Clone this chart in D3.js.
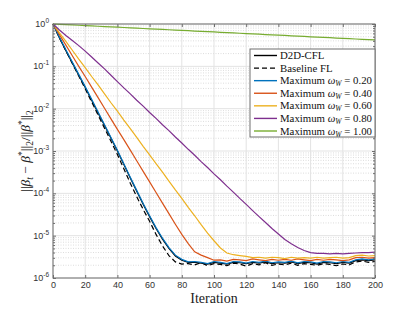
<!DOCTYPE html>
<html>
<head>
<meta charset="utf-8">
<script src="https://cdn.jsdelivr.net/npm/d3@7/dist/d3.min.js"></script>
<style>
  body { margin: 0; background: #fff; }
</style>
</head>
<body>
<div class="content"></div>
<script>
// iteration index of every sample
const iterations = [0, 4, 8, 12, 16, 20, 24, 28, 32, 36, 40, 44, 48, 52, 56, 60, 64, 68, 72, 76, 80,
  84, 88, 92, 96, 100, 104, 108, 112, 116, 120, 124, 128, 132, 136, 140, 144, 148, 152, 156, 160,
  164, 168, 172, 176, 180, 184, 188, 192, 196, 200];

// log10 of ||beta_t - beta*||_2 / ||beta*||_2
const logD2D = [0, -0.33, -0.63, -0.92, -1.21, -1.50, -1.80, -2.10, -2.40, -2.70, -3.00, -3.32, -3.64, -3.95, -4.26, -4.55, -4.83, -5.08, -5.30, -5.48, -5.58,
  -5.63, -5.63, -5.65, -5.67, -5.63, -5.65, -5.67, -5.63, -5.64, -5.66, -5.63, -5.65, -5.62, -5.66, -5.64, -5.65, -5.62, -5.66, -5.63, -5.64,
  -5.67, -5.63, -5.64, -5.66, -5.63, -5.65, -5.59, -5.57, -5.59, -5.57];
const logBaseline = [0, -0.32, -0.63, -0.93, -1.23, -1.53, -1.84, -2.15, -2.46, -2.77, -3.08, -3.42, -3.76, -4.08, -4.38, -4.66, -4.97, -5.24, -5.47, -5.62, -5.67,
  -5.66, -5.69, -5.64, -5.71, -5.66, -5.68, -5.71, -5.65, -5.67, -5.72, -5.66, -5.69, -5.64, -5.70, -5.67, -5.69, -5.65, -5.70, -5.66, -5.68,
  -5.70, -5.66, -5.68, -5.71, -5.67, -5.69, -5.62, -5.60, -5.63, -5.61];
const logW020 = [0, -0.31, -0.61, -0.90, -1.19, -1.48, -1.78, -2.08, -2.38, -2.68, -2.98, -3.30, -3.62, -3.93, -4.24, -4.53, -4.81, -5.06, -5.28, -5.46, -5.56,
  -5.62, -5.61, -5.63, -5.66, -5.61, -5.63, -5.66, -5.61, -5.62, -5.65, -5.61, -5.63, -5.60, -5.64, -5.62, -5.63, -5.60, -5.64, -5.61, -5.62,
  -5.65, -5.61, -5.62, -5.64, -5.61, -5.63, -5.57, -5.55, -5.57, -5.55];
const logW040 = [0, -0.25, -0.50, -0.75, -1.00, -1.24, -1.49, -1.74, -1.99, -2.24, -2.49, -2.73, -2.98, -3.23, -3.48, -3.73, -3.98, -4.23, -4.48, -4.73, -4.97,
  -5.19, -5.38, -5.46, -5.52, -5.58, -5.57, -5.60, -5.56, -5.57, -5.59, -5.55, -5.57, -5.59, -5.56, -5.58, -5.56, -5.58, -5.55, -5.57, -5.59,
  -5.56, -5.58, -5.56, -5.57, -5.59, -5.57, -5.52, -5.51, -5.53, -5.52];
const logW060 = [0, -0.21, -0.41, -0.62, -0.83, -1.03, -1.24, -1.44, -1.65, -1.86, -2.06, -2.27, -2.47, -2.68, -2.89, -3.09, -3.30, -3.50, -3.71, -3.92, -4.12,
  -4.33, -4.53, -4.74, -4.94, -5.12, -5.29, -5.41, -5.45, -5.47, -5.49, -5.52, -5.51, -5.53, -5.51, -5.52, -5.54, -5.51, -5.53, -5.52, -5.53,
  -5.51, -5.53, -5.52, -5.51, -5.53, -5.52, -5.47, -5.46, -5.48, -5.47];
const logW080 = [0, -0.14, -0.27, -0.39, -0.51, -0.64, -0.78, -0.92, -1.06, -1.21, -1.36, -1.51, -1.65, -1.80, -1.94, -2.09, -2.23, -2.38, -2.52, -2.67, -2.81,
  -2.96, -3.10, -3.25, -3.39, -3.54, -3.68, -3.83, -3.97, -4.12, -4.26, -4.41, -4.55, -4.69, -4.83, -4.96, -5.09, -5.19, -5.28, -5.35, -5.40,
  -5.42, -5.42, -5.43, -5.42, -5.43, -5.42, -5.41, -5.40, -5.40, -5.39];
const logW100 = [0, -0.008, -0.015, -0.023, -0.030, -0.038, -0.045, -0.053, -0.060, -0.068, -0.075, -0.083, -0.090, -0.098, -0.106, -0.113, -0.121, -0.128, -0.136, -0.143, -0.151,
  -0.158, -0.166, -0.173, -0.181, -0.188, -0.196, -0.204, -0.211, -0.219, -0.226, -0.234, -0.241, -0.249, -0.256, -0.264, -0.271, -0.279, -0.286, -0.294, -0.302,
  -0.309, -0.317, -0.324, -0.332, -0.339, -0.347, -0.354, -0.362, -0.369, -0.377];

const xTicks = [0, 20, 40, 60, 80, 100, 120, 140, 160, 180, 200];
const yExponents = [0, -1, -2, -3, -4, -5, -6];
const omegaLabels = ['0.20', '0.40', '0.60', '0.80', '1.00'];

const series = [
  { name: 'D2D-CFL', values: logD2D, color: '#000000', dash: null },
  { name: 'Baseline FL', values: logBaseline, color: '#000000', dash: '5,3' },
  { omega: omegaLabels[0], values: logW020, color: '#0072BD', dash: null },
  { omega: omegaLabels[1], values: logW040, color: '#D95319', dash: null },
  { omega: omegaLabels[2], values: logW060, color: '#EDB120', dash: null },
  { omega: omegaLabels[3], values: logW080, color: '#7E2F8E', dash: null },
  { omega: omegaLabels[4], values: logW100, color: '#77AC30', dash: null }
];

function main() {
  const svgW = 415, svgH = 312;
  const left = 53, right = 375, top = 24, bottom = 278;
  const svg = d3.select('.content').append('svg')
    .attr('width', svgW)
    .attr('height', svgH);

  const x = d3.scaleLinear().domain([0, 200]).range([left, right]);
  const y = d3.scaleLog().domain([1e-6, 1]).range([bottom, top]);

  // grid: minor (dotted) first, then major
  const minorVals = [];
  yExponents.slice(1).forEach(e => {
    for (let m = 2; m <= 9; m++) minorVals.push(m * Math.pow(10, e));
  });
  svg.append('g').selectAll('line').data(minorVals).join('line')
    .attr('x1', left).attr('x2', right)
    .attr('y1', d => y(d)).attr('y2', d => y(d))
    .attr('stroke', '#d4d4d4').attr('stroke-width', 0.8)
    .attr('stroke-dasharray', '1,1.5');
  svg.append('g').selectAll('line').data(yExponents.map(e => Math.pow(10, e))).join('line')
    .attr('x1', left).attr('x2', right)
    .attr('y1', d => y(d)).attr('y2', d => y(d))
    .attr('stroke', '#e3e3e3').attr('stroke-width', 1);
  svg.append('g').selectAll('line').data(xTicks).join('line')
    .attr('x1', d => x(d)).attr('x2', d => x(d))
    .attr('y1', top).attr('y2', bottom)
    .attr('stroke', '#e3e3e3').attr('stroke-width', 1);

  // curves
  const line = d3.line()
    .x((d, i) => x(iterations[i]))
    .y(d => y(Math.pow(10, d)));
  series.forEach(s => {
    svg.append('path').datum(s.values)
      .attr('d', line)
      .attr('fill', 'none')
      .attr('stroke', s.color)
      .attr('stroke-width', 1.2)
      .attr('stroke-dasharray', s.dash);
  });

  // axes box and ticks
  const axisColor = '#6e6e6e';
  svg.append('rect')
    .attr('x', left).attr('y', top)
    .attr('width', right - left).attr('height', bottom - top)
    .attr('fill', 'none').attr('stroke', axisColor).attr('stroke-width', 1);

  const xAxisB = d3.axisBottom(x).tickValues(xTicks).tickSizeInner(-3).tickSizeOuter(0).tickPadding(4);
  const gx = svg.append('g').attr('transform', `translate(0,${bottom})`).call(xAxisB);
  const xAxisT = d3.axisTop(x).tickValues(xTicks).tickSizeInner(-3).tickSizeOuter(0).tickFormat('');
  const gxt = svg.append('g').attr('transform', `translate(0,${top})`).call(xAxisT);
  const yAxisL = d3.axisLeft(y).tickValues(minorVals).tickSizeInner(-2).tickSizeOuter(0).tickFormat('');
  const gyl = svg.append('g').attr('transform', `translate(${left},0)`).call(yAxisL);
  const yAxisR = d3.axisRight(y).tickValues(minorVals).tickSizeInner(-2).tickSizeOuter(0).tickFormat('');
  const gyr = svg.append('g').attr('transform', `translate(${right},0)`).call(yAxisR);
  const yMajL = d3.axisLeft(y).tickValues(yExponents.map(e => Math.pow(10, e))).tickSizeInner(-3).tickSizeOuter(0).tickFormat('');
  const gym = svg.append('g').attr('transform', `translate(${left},0)`).call(yMajL);
  const yMajR = d3.axisRight(y).tickValues(yExponents.map(e => Math.pow(10, e))).tickSizeInner(-3).tickSizeOuter(0).tickFormat('');
  const gymr = svg.append('g').attr('transform', `translate(${right},0)`).call(yMajR);
  [gx, gxt, gyl, gyr, gym, gymr].forEach(g => {
    g.select('.domain').remove();
    g.selectAll('line').attr('stroke', axisColor);
  });
  gx.selectAll('text')
    .attr('fill', '#333')
    .style('font-family', '"Liberation Sans", Arial, sans-serif')
    .style('font-size', '9px');

  // y tick labels 10^k
  const yLab = svg.append('g')
    .style('font-family', '"Liberation Sans", Arial, sans-serif')
    .attr('fill', '#333');
  yExponents.forEach(e => {
    const t = yLab.append('text')
      .attr('x', left - 4)
      .attr('y', y(Math.pow(10, e)) + 3)
      .attr('text-anchor', 'end');
    t.append('tspan').style('font-size', '9px').text('10');
    t.append('tspan').style('font-size', '6.5px').attr('dy', -4).text(e === 0 ? '0' : '-' + (-e));
  });

  // x label
  svg.append('text')
    .attr('x', (left + right) / 2).attr('y', 303)
    .attr('text-anchor', 'middle')
    .style('font-family', '"Liberation Serif", "Times New Roman", serif')
    .style('font-size', '14px')
    .attr('fill', '#222')
    .text('Iteration');

  // y label
  const yl = svg.append('text')
    .attr('transform', `translate(30,${(top + bottom) / 2}) rotate(-90)`)
    .attr('text-anchor', 'middle')
    .style('font-family', '"Liberation Serif", "Times New Roman", serif')
    .style('font-size', '13.5px')
    .attr('fill', '#222');
  yl.append('tspan').text('||');
  yl.append('tspan').style('font-style', 'italic').text('\u03B2');
  yl.append('tspan').style('font-style', 'italic').style('font-size', '9.5px').attr('dy', 3).text('t');
  yl.append('tspan').attr('dy', -3).text(' \u2212 ');
  yl.append('tspan').style('font-style', 'italic').text('\u03B2');
  yl.append('tspan').style('font-size', '9.5px').attr('dy', -5).text('*');
  yl.append('tspan').attr('dy', 5).text('||');
  yl.append('tspan').style('font-size', '9.5px').attr('dy', 3).text('2');
  yl.append('tspan').attr('dy', -3).text('/||');
  yl.append('tspan').style('font-style', 'italic').text('\u03B2');
  yl.append('tspan').style('font-size', '9.5px').attr('dy', -5).text('*');
  yl.append('tspan').attr('dy', 5).text('||');
  yl.append('tspan').style('font-size', '9.5px').attr('dy', 3).text('2');

  // legend
  const lg = svg.append('g');
  lg.append('rect')
    .attr('x', 250).attr('y', 49).attr('width', 125).attr('height', 88)
    .attr('fill', '#fff').attr('stroke', axisColor).attr('stroke-width', 1);
  const rowY = d3.scaleLinear().domain([0, series.length - 1]).range([55.5, 131]);
  series.forEach((s, i) => {
    const yy = rowY(i);
    lg.append('line')
      .attr('x1', 254).attr('x2', 277)
      .attr('y1', yy).attr('y2', yy)
      .attr('stroke', s.color).attr('stroke-width', 1.4)
      .attr('stroke-dasharray', s.dash);
    const t = lg.append('text')
      .attr('x', 280).attr('y', yy + 3.5)
      .style('font-family', '"Liberation Serif", "Times New Roman", serif')
      .style('font-size', '10.8px')
      .attr('fill', '#111');
    if (s.name) {
      t.text(s.name);
    } else {
      t.append('tspan').text('Maximum ');
      t.append('tspan').style('font-style', 'italic').text('\u03C9');
      t.append('tspan').style('font-style', 'italic').style('font-size', '7.5px').attr('dy', 2).text('W');
      t.append('tspan').attr('dy', -2).text(' = ' + s.omega);
    }
  });
}
main();
</script>
</body>
</html>
